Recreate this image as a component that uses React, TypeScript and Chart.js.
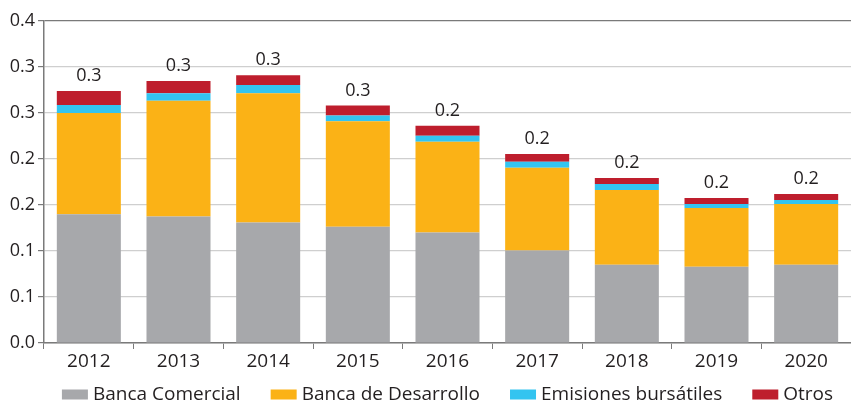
import React, { useEffect, useRef } from "react";
import { Chart, registerables } from "chart.js";

Chart.register(...registerables);

const years = ["2012", "2013", "2014", "2015", "2016", "2017", "2018", "2019", "2020"];
const bancaComercial = [0.14, 0.1376, 0.131, 0.1263, 0.12, 0.1006, 0.085, 0.0828, 0.085];
const bancaDesarrollo = [0.11, 0.1256, 0.1405, 0.1148, 0.0987, 0.09, 0.0814, 0.0639, 0.066];
const emisiones = [0.0087, 0.0084, 0.009, 0.0061, 0.0065, 0.0065, 0.0065, 0.0043, 0.0044];
const otros = [0.0153, 0.0131, 0.0106, 0.0109, 0.0109, 0.0084, 0.0065, 0.0066, 0.0066];
const yTickLabels = ["0.0", "0.1", "0.1", "0.2", "0.2", "0.3", "0.3", "0.4"];
const seriesNames = ["Banca Comercial", "Banca de Desarrollo", "Emisiones bursátiles", "Otros"];
const seriesColors = ["#A7A8AB", "#FBB216", "#33C4F0", "#BE1E2D"];

const TEXT = "#231F20";
const AXIS = "#7a7a7a";
const FONT = "'Open Sans', sans-serif";

const totalsPlugin = {
  id: "totals",
  afterDatasetsDraw(chart: any) {
    const ctx = chart.ctx;
    const n = chart.data.datasets.length;
    const meta = chart.getDatasetMeta(n - 1);
    ctx.save();
    ctx.font = `18px ${FONT}`;
    ctx.fillStyle = TEXT;
    ctx.textAlign = "center";
    ctx.textBaseline = "alphabetic";
    meta.data.forEach((el: any, i: number) => {
      const total = chart.data.datasets.reduce((s: number, d: any) => s + d.data[i], 0);
      ctx.fillText(total.toFixed(1), el.x, el.y - 10);
    });
    ctx.restore();
  },
};

const legendPlugin = {
  id: "customLegend",
  afterDraw(chart: any) {
    const ctx = chart.ctx;
    const ca = chart.chartArea;
    ctx.save();
    ctx.font = `19px ${FONT}`;
    const boxW = 26;
    const boxH = 10;
    const gap = 5;
    const spacing = 30;
    const items = chart.data.datasets.map((d: any) => ({
      label: d.label,
      color: d.backgroundColor,
      w: ctx.measureText(d.label).width,
    }));
    const total =
      items.reduce((s: number, it: any) => s + boxW + gap + it.w, 0) + spacing * (items.length - 1);
    let x = (ca.left + ca.right) / 2 - total / 2;
    const cy = 394.5;
    ctx.textBaseline = "middle";
    ctx.textAlign = "left";
    items.forEach((it: any) => {
      ctx.fillStyle = it.color;
      ctx.fillRect(x, cy - boxH / 2, boxW, boxH);
      ctx.fillStyle = TEXT;
      ctx.fillText(it.label, x + boxW + gap, cy);
      x += boxW + gap + it.w + spacing;
    });
    ctx.restore();
  },
};

export default function App() {
  const canvasRef = useRef<HTMLCanvasElement | null>(null);

  useEffect(() => {
    document.body.style.margin = "0";
    const canvas = canvasRef.current;
    if (!canvas) return;
    const seriesData = [bancaComercial, bancaDesarrollo, emisiones, otros];
    const chart = new Chart(canvas, {
      type: "bar",
      data: {
        labels: years,
        datasets: seriesData.map((d, i) => ({
          label: seriesNames[i],
          data: d,
          backgroundColor: seriesColors[i],
          borderWidth: 0,
          barPercentage: 0.714,
          categoryPercentage: 1,
        })),
      },
      options: {
        responsive: false,
        animation: false,
        devicePixelRatio: 1,
        layout: { padding: { top: 21, bottom: 29, left: 0, right: 0 } },
        plugins: {
          legend: { display: false },
          tooltip: { enabled: false },
          title: { display: false },
        },
        scales: {
          x: {
            stacked: true,
            grid: { offset: true, drawOnChartArea: false, tickLength: 6, tickColor: AXIS },
            border: { color: AXIS, width: 1.5 },
            ticks: { font: { family: FONT, size: 19 }, color: TEXT, padding: 1 },
            afterFit: (s: any) => {
              s.height = 30;
            },
          },
          y: {
            stacked: true,
            min: 0,
            max: 0.35,
            ticks: {
              stepSize: 0.05,
              callback: (_v: any, i: number) => yTickLabels[i],
              font: { family: FONT, size: 18 },
              color: TEXT,
              padding: 3,
            },
            grid: {
              color: (c: any) => (c.index === 7 ? AXIS : "#cfcfcf"),
              lineWidth: 1.2,
              tickLength: 6,
              tickColor: AXIS,
            },
            border: { color: AXIS, width: 1.5 },
            afterFit: (s: any) => {
              s.width = 44;
            },
          },
        },
      },
      plugins: [totalsPlugin, legendPlugin],
    });
    return () => chart.destroy();
  }, []);

  return (
    <div style={{ width: 851, height: 402 }}>
      <canvas ref={canvasRef} width={851} height={402} />
    </div>
  );
}
